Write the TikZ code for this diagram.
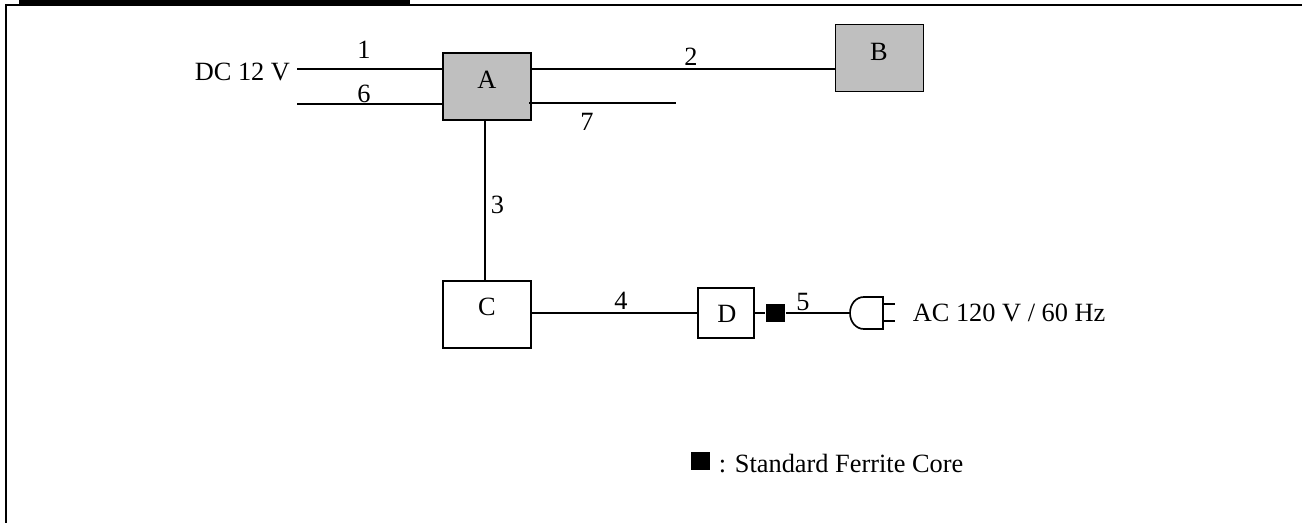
\documentclass[tikz,border=0pt]{standalone}
\usepackage{fontspec}
\setmainfont{Liberation Serif}
\begin{document}
\begin{tikzpicture}[x=0.02cm, y=-0.02cm, line width=0.95pt, black,
    box/.style={draw, inner sep=0pt, minimum width=1.76cm, minimum height=1.34cm},
    greybox/.style={box, fill=black!25},
    core/.style={fill=black, draw=none, inner sep=0pt, minimum width=0.38cm, minimum height=0.36cm},
    txt/.style={inner sep=0pt, text=black, font=\fontsize{15}{18}\selectfont}]
    \useasboundingbox (0,0) rectangle (1302,523);

    % frame
    \fill[black] (19,0) rectangle (410,5);
    \draw[line width=1.2pt, black] (6,523) -- (6,5) -- (1302,5);

    % boxes
    \node[greybox] (A) at (487,86.5) {};
    \node[greybox] (B) at (879.5,58) {};
    \node[box] (C) at (487,314.5) {};
    \node[box, minimum width=1.12cm, minimum height=1cm] (D) at (726,313) {};
    \node[core] (F) at (775.5,313) {};

    \node[txt] (Atext) at (487,80) {A};
    \node[txt] (Btext) at (879,52) {B};
    \node[txt] (Ctext) at (487,306.5) {C};
    \node[txt] (Dtext) at (727,314) {D};

    % numbers on the cables
    \foreach \n/\x/\y in {1/364/49.5, 6/364/94, 2/691/57, 7/587/122, 3/497.5/205, 4/621/301, 5/803/302} {
        \node[txt] (num\n) at (\x,\y) {\n};
    }

    % free ends
    \coordinate (dca) at (297,69);
    \coordinate (dcb) at (297,104);
    \coordinate (atwo) at (531,69);
    \coordinate (aseven) at (529,103);
    \coordinate (freeseven) at (676,103);
    \coordinate (plug) at (850,313);

    \draw (dca) -- (dca -| A.west);
    \draw (dcb) -- (dcb -| A.west);
    \draw (atwo) -- (atwo -| B.west);
    \draw (aseven) -- (freeseven);
    \draw (A.south -| 485,0) -- (C.north -| 485,0);
    \draw (C.east |- D.west) -- (D.west);
    \draw (D.east) -- (F.west);
    \draw (F.east) -- (plug);

    % plug
    \draw (883,297) -- (864,297) .. controls (856,297) and (850,304) .. (plug)
          .. controls (850,322) and (856,329) .. (864,329) -- (883,329) -- cycle;
    \draw (883,304) -- (895,304);
    \draw (883,321) -- (895,321);

    \node[txt, anchor=west] (dctext) at (194,72) {DC 12 V};
    \node[txt, anchor=west] (actext) at (912,313) {AC 120 V / 60 Hz};

    % legend
    \node[core] (legcore) at (700,461) {};
    \node[txt, anchor=west] (legtext) at (718,464) {: Standard Ferrite Core};
\end{tikzpicture}
\end{document}
